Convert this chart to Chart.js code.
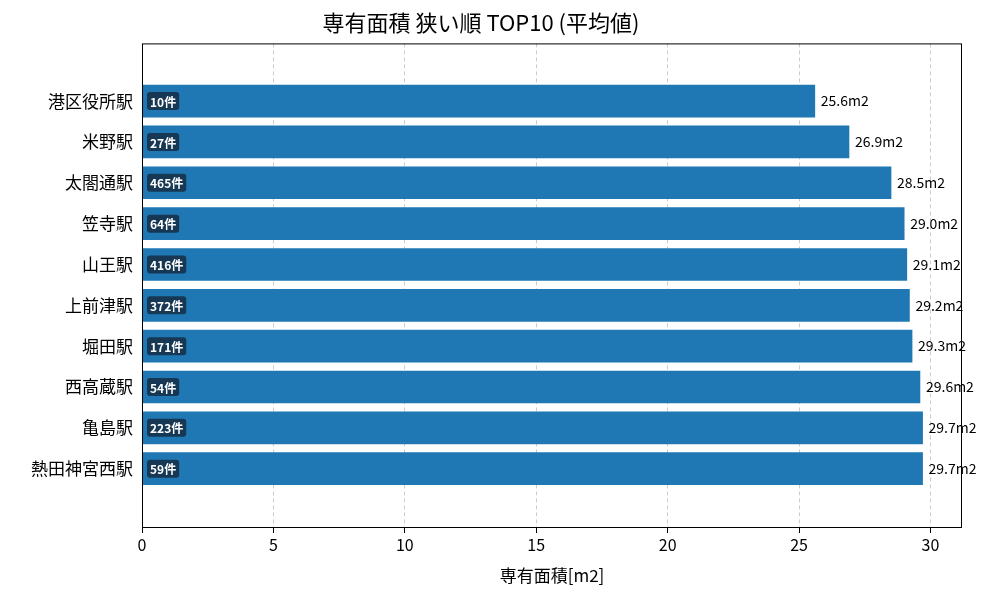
<!DOCTYPE html>
<html><head><meta charset="utf-8">
<script src="https://cdn.jsdelivr.net/npm/chart.js@4"></script>
<style>html,body{margin:0;padding:0;background:#fff}#w{width:1000px;height:600px}</style>
</head><body><div id="w"><canvas id="c"></canvas></div>
<script>
const stations = ["港区役所駅","米野駅","太閤通駅","笠寺駅","山王駅","上前津駅","堀田駅","西高蔵駅","亀島駅","熱田神宮西駅"];
const areas = [25.6, 26.9, 28.5, 29.0, 29.1, 29.2, 29.3, 29.6, 29.7, 29.7];
const counts = [10, 27, 465, 64, 416, 372, 171, 54, 223, 59];
const xTicks = [0, 5, 10, 15, 20, 25, 30];
const FONT = "'Noto Sans CJK JP','Noto Sans',sans-serif";

const labelPlugin = {
  id: 'labels',
  afterDatasetsDraw(chart) {
    const ctx = chart.ctx;
    const meta = chart.getDatasetMeta(0);
    const xs = chart.scales.x;
    ctx.save();
    meta.data.forEach((bar, i) => {
      ctx.font = "14px " + FONT;
      ctx.fillStyle = "#000";
      ctx.textBaseline = "middle";
      ctx.textAlign = "left";
      ctx.fillText(areas[i].toFixed(1) + "m2", bar.x + 6, bar.y);
      const t = counts[i] + "件";
      ctx.font = "bold 12px " + FONT;
      const w = ctx.measureText(t).width;
      const x0 = xs.getPixelForValue(0) + 5, h = 18;
      ctx.fillStyle = "rgba(20,40,60,0.8)";
      ctx.beginPath();
      ctx.roundRect(x0, bar.y - h / 2, w + 6, h, 3);
      ctx.fill();
      ctx.fillStyle = "#fff";
      ctx.fillText(t, x0 + 3, bar.y + 1);
    });
    const a = chart.chartArea;
    ctx.strokeStyle = "#000"; ctx.lineWidth = 1;
    ctx.strokeRect(a.left + 0.5, a.top + 0.5, a.right - a.left - 1, a.bottom - a.top - 1);
    ctx.restore();
  }
};

new Chart(document.getElementById('c'), {
  type: 'bar',
  data: { datasets: [{ data: areas.map((v, i) => ({ x: v, y: i })), backgroundColor: '#1f77b4', barThickness: 32 }] },
  options: {
    indexAxis: 'y', responsive: true, maintainAspectRatio: false, animation: false,
    layout: { padding: { left: 0, right: 38, top: 0, bottom: 0 } },
    plugins: {
      legend: { display: false }, tooltip: { enabled: false },
      title: { display: true, text: '専有面積 狭い順 TOP10 (平均値)', color: '#000', font: { family: FONT, size: 22, weight: 'normal' }, padding: { top: 9, bottom: 8 } }
    },
    scales: {
      x: {
        type: 'linear', min: 0, max: 31.2,
        afterBuildTicks: s => { s.ticks = xTicks.map(v => ({ value: v })); },
        ticks: { autoSkip: false, color: '#000', font: { family: FONT, size: 16 }, padding: 2 },
        grid: { color: 'rgba(0,0,0,0.2)', drawTicks: true, tickLength: 5, tickColor: '#000' },
        border: { dash: [4, 3], display: false },
        title: { display: true, text: '専有面積[m2]', color: '#000', font: { family: FONT, size: 17 }, padding: { top: 0, bottom: 14 } },
        afterFit: s => { s.height = 72; }
      },
      y: {
        type: 'linear', reverse: true, min: -0.82, max: 9.86,
        afterBuildTicks: s => { s.ticks = stations.map((_, i) => ({ value: i })); },
        ticks: { autoSkip: false, color: '#000', font: { family: FONT, size: 17 }, padding: 4, callback: v => stations[v] },
        grid: { display: false, drawTicks: true, tickLength: 5 },
        border: { display: false },
        afterFit: s => { s.width = 142; }
      }
    }
  },
  plugins: [labelPlugin]
});
</script></body></html>
